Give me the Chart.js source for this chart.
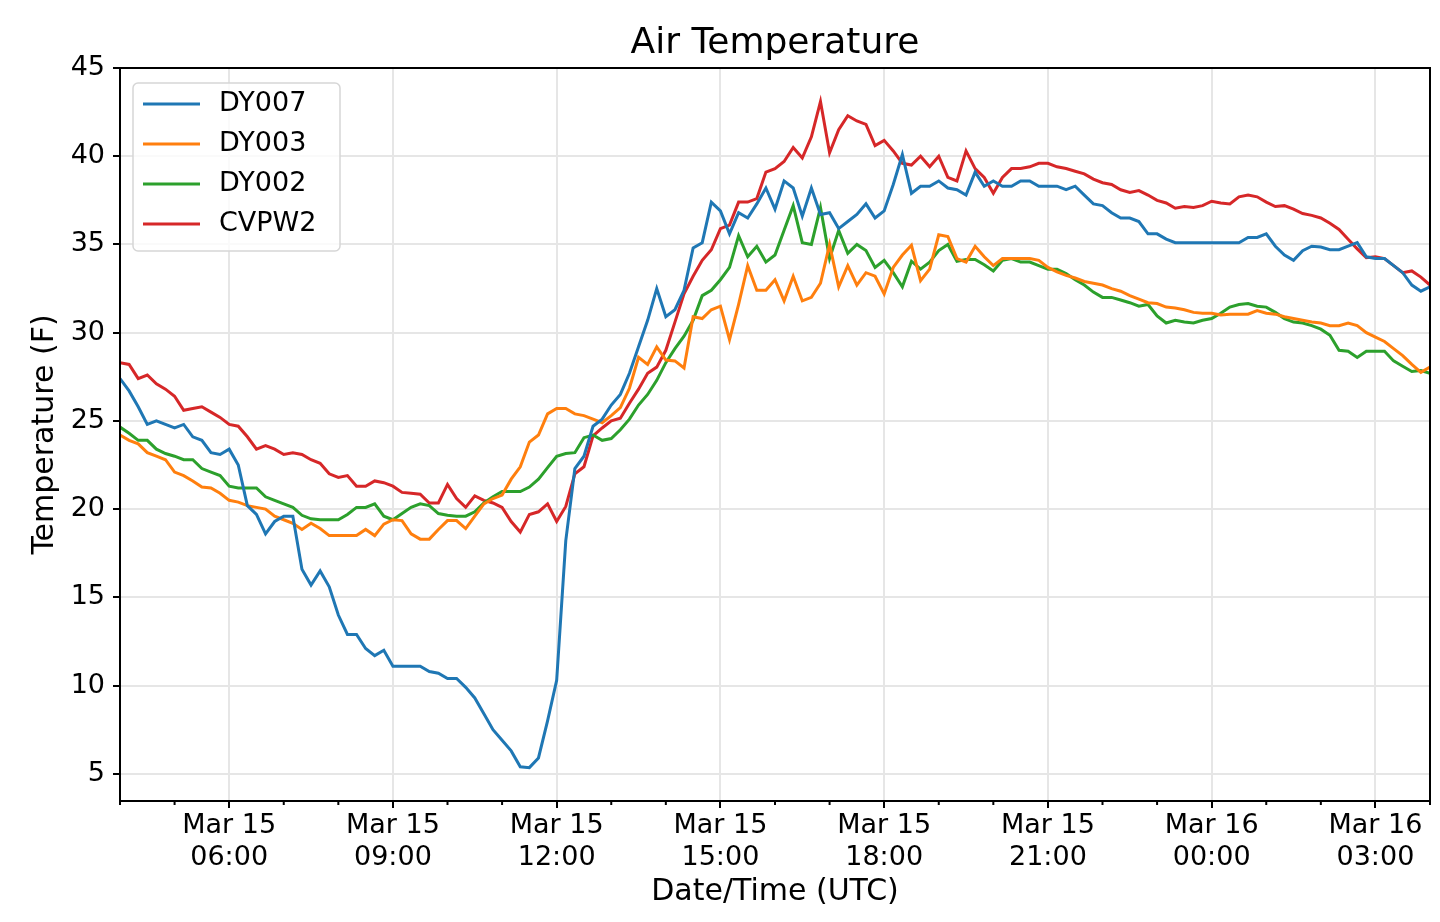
<!DOCTYPE html>
<html lang="en">
<head>
  <meta charset="UTF-8">
  <title>Air Temperature</title>
  <script src="https://cdn.jsdelivr.net/npm/chart.js"></script>
  <style>
    body { margin: 0; background: #fff; }
    .chart-div { width: 1440px; height: 922px; }
  </style>
</head>
<body>
<div class="chart-div">
  <canvas id="myChart"></canvas>
</div>
<script>
  // time axis: hours since Mar 15 00:00 UTC, one reading every 10 minutes from 04:00 to 04:00 next day
  const startHour = 4;
  const endHour = 28;
  const times = [];
  for (let i = 0; i <= (endHour - startHour) * 6; i++) times.push(startHour + i / 6);

  const chartTitle = 'Air Temperature';
  const seriesNames = ['DY007', 'DY003', 'DY002', 'CVPW2'];
  const seriesColors = ['#1f77b4', '#ff7f0e', '#2ca02c', '#d62728'];

  // each row = one hour (6 readings)
  const dy007 = [
    27.4, 26.7, 25.8, 24.8, 25.0, 24.8,    // 04:00
    24.6, 24.8, 24.1, 23.9, 23.2, 23.1,    // 05:00
    23.4, 22.5, 20.2, 19.7, 18.6, 19.3,    // 06:00
    19.6, 19.6, 16.6, 15.7, 16.5, 15.6,    // 07:00
    14.0, 12.9, 12.9, 12.1, 11.7, 12.0,    // 08:00
    11.1, 11.1, 11.1, 11.1, 10.8, 10.7,    // 09:00
    10.4, 10.4, 9.9, 9.3, 8.4, 7.5,        // 10:00
    6.9, 6.3, 5.4, 5.35, 5.9, 8.0,         // 11:00
    10.3, 18.2, 22.3, 23.0, 24.7, 25.1,    // 12:00
    25.9, 26.5, 27.7, 29.2, 30.7, 32.5,    // 13:00
    30.9, 31.3, 32.4, 34.8, 35.1, 37.4,    // 14:00
    36.9, 35.6, 36.8, 36.5, 37.3, 38.2,    // 15:00
    37.0, 38.6, 38.2, 36.6, 38.2, 36.7,    // 16:00
    36.8, 35.9, 36.3, 36.7, 37.3, 36.5,    // 17:00
    36.9, 38.4, 40.1, 37.9, 38.3, 38.3,    // 18:00
    38.6, 38.2, 38.1, 37.8, 39.1, 38.3,    // 19:00
    38.6, 38.3, 38.3, 38.6, 38.6, 38.3,    // 20:00
    38.3, 38.3, 38.1, 38.3, 37.8, 37.3,    // 21:00
    37.2, 36.8, 36.5, 36.5, 36.3, 35.6,    // 22:00
    35.6, 35.3, 35.1, 35.1, 35.1, 35.1,    // 23:00
    35.1, 35.1, 35.1, 35.1, 35.4, 35.4,    // 00:00
    35.6, 34.9, 34.4, 34.1, 34.65, 34.9,   // 01:00
    34.85, 34.7, 34.7, 34.9, 35.1, 34.3,   // 02:00
    34.2, 34.2, 33.8, 33.4, 32.7, 32.35,   // 03:00
    32.6                                   // 04:00
  ];

  const dy003 = [
    24.2, 23.9, 23.7, 23.2, 23.0, 22.8,
    22.1, 21.9, 21.6, 21.25, 21.2, 20.9,
    20.5, 20.4, 20.2, 20.1, 20.0, 19.6,
    19.4, 19.2, 18.85, 19.2, 18.9, 18.5,
    18.5, 18.5, 18.5, 18.85, 18.5, 19.15,
    19.4, 19.35, 18.6, 18.3, 18.3, 18.85,
    19.35, 19.35, 18.9, 19.6, 20.3, 20.6,
    20.8, 21.7, 22.4, 23.8, 24.2, 25.4,
    25.7, 25.7, 25.4, 25.3, 25.1, 24.9,
    25.3, 25.75, 26.85, 28.6, 28.2, 29.2,
    28.45, 28.4, 28.0, 30.9, 30.8, 31.3,
    31.5, 29.6, 31.6, 33.8, 32.4, 32.4,
    33.0, 31.8, 33.2, 31.8, 32.0, 32.8,
    35.0, 32.6, 33.8, 32.7, 33.4, 33.2,
    32.2, 33.7, 34.4, 34.95, 32.95, 33.6,
    35.55, 35.45, 34.2, 34.0, 34.9, 34.3,
    33.8, 34.2, 34.2, 34.2, 34.2, 34.1,
    33.7, 33.45, 33.25, 33.1, 32.9, 32.8,
    32.7, 32.5, 32.35, 32.1, 31.9, 31.7,
    31.65, 31.45, 31.4, 31.3, 31.15, 31.1,
    31.1, 31.0, 31.05, 31.05, 31.05, 31.25,
    31.1, 31.05, 30.9, 30.8, 30.7, 30.6,
    30.55, 30.4, 30.4, 30.55, 30.4, 30.0,
    29.75, 29.5, 29.1, 28.7, 28.2, 27.75,
    28.05
  ];

  const dy002 = [
    24.65, 24.3, 23.9, 23.9, 23.4, 23.15,
    23.0, 22.8, 22.8, 22.3, 22.1, 21.9,
    21.3, 21.2, 21.2, 21.2, 20.7, 20.5,
    20.3, 20.1, 19.65, 19.45, 19.4, 19.4,
    19.4, 19.7, 20.1, 20.1, 20.3, 19.6,
    19.4, 19.75, 20.1, 20.3, 20.2, 19.75,
    19.65, 19.6, 19.6, 19.85, 20.35, 20.7,
    21.0, 21.0, 21.0, 21.25, 21.7, 22.35,
    23.0, 23.15, 23.2, 24.05, 24.2, 23.9,
    24.0, 24.5, 25.1, 25.9, 26.5, 27.3,
    28.3, 29.1, 29.8, 30.7, 32.1, 32.4,
    33.0, 33.7, 35.5, 34.3, 34.9, 34.0,
    34.4, 35.8, 37.2, 35.1, 35.0, 37.1,
    34.2, 35.8, 34.5, 35.0, 34.65, 33.7,
    34.1, 33.4, 32.6, 34.05, 33.6, 34.0,
    34.65, 35.0, 34.05, 34.15, 34.15, 33.85,
    33.5, 34.1, 34.2, 34.0, 34.0, 33.8,
    33.6, 33.6, 33.35, 33.0, 32.7, 32.3,
    32.0, 32.0, 31.85, 31.7, 31.5, 31.6,
    30.95, 30.55, 30.7, 30.6, 30.55, 30.7,
    30.8, 31.1, 31.45, 31.6, 31.65, 31.5,
    31.45, 31.15, 30.8, 30.6, 30.55, 30.4,
    30.2, 29.85, 29.0, 28.95, 28.6, 28.95,
    28.95, 28.95, 28.4, 28.1, 27.8, 27.85,
    27.7
  ];

  const cvpw2 = [
    28.3, 28.2, 27.4, 27.6, 27.1, 26.8,
    26.4, 25.6, 25.7, 25.8, 25.5, 25.2,
    24.8, 24.7, 24.1, 23.4, 23.6, 23.4,
    23.1, 23.2, 23.1, 22.8, 22.6, 22.0,
    21.8, 21.9, 21.3, 21.3, 21.6, 21.5,
    21.3, 20.95, 20.9, 20.85, 20.35, 20.35,
    21.4, 20.6, 20.1, 20.75, 20.5, 20.35,
    20.1, 19.3, 18.7, 19.7, 19.85, 20.3,
    19.3, 20.15, 22.0, 22.4, 24.15, 24.6,
    25.0, 25.15, 26.0, 26.8, 27.7, 28.05,
    29.0, 30.6, 32.2, 33.2, 34.1, 34.7,
    35.9, 36.1, 37.4, 37.4, 37.6, 39.1,
    39.3, 39.7, 40.5, 39.9, 41.1, 43.1,
    40.2, 41.5, 42.3, 42.0, 41.8, 40.6,
    40.9, 40.3, 39.6, 39.5, 40.0, 39.4,
    40.0, 38.8, 38.6, 40.3, 39.3, 38.8,
    37.9, 38.8, 39.3, 39.3, 39.4, 39.6,
    39.6, 39.4, 39.3, 39.15, 39.0, 38.7,
    38.5, 38.4, 38.1, 37.95, 38.05, 37.8,
    37.5, 37.35, 37.05, 37.15, 37.1, 37.2,
    37.45, 37.35, 37.3, 37.7, 37.8, 37.7,
    37.4, 37.15, 37.2, 37.0, 36.75, 36.65,
    36.5, 36.2, 35.85, 35.3, 34.75, 34.25,
    34.3, 34.2, 33.8, 33.4, 33.5, 33.15,
    32.7
  ];

  const xMajorHours = [6, 9, 12, 15, 18, 21, 24, 27];
  const xTickLabels = [
    ['Mar 15', '06:00'], ['Mar 15', '09:00'], ['Mar 15', '12:00'], ['Mar 15', '15:00'],
    ['Mar 15', '18:00'], ['Mar 15', '21:00'], ['Mar 16', '00:00'], ['Mar 16', '03:00']
  ];
  const yTicks = [5, 10, 15, 20, 25, 30, 35, 40, 45];
  const yMin = 3.46;
  const yMax = 45;

  const allSeries = [dy007, dy003, dy002, cvpw2];

  Chart.defaults.font.family = '"DejaVu Sans", sans-serif';
  Chart.defaults.color = '#000';

  // title centred over the plot area (like matplotlib), box around the plot,
  // and short minor ticks on the time axis
  const frame = {
    id: 'frame',
    afterDraw(chart) {
      const {ctx, chartArea: a} = chart;
      const xs = chart.scales.x;
      ctx.save();
      ctx.fillStyle = '#000';
      ctx.font = '36px "DejaVu Sans"';
      ctx.textAlign = 'center';
      ctx.textBaseline = 'alphabetic';
      ctx.fillText(chartTitle, (a.left + a.right) / 2, a.top - 15);

      ctx.strokeStyle = '#000';
      ctx.lineWidth = 2;
      ctx.beginPath();
      xs.ticks.forEach(t => {
        if (xMajorHours.includes(t.value)) return;
        const px = xs.getPixelForValue(t.value);
        ctx.moveTo(px, a.bottom);
        ctx.lineTo(px, a.bottom + 4);
      });
      ctx.stroke();
      ctx.strokeRect(a.left, a.top, a.right - a.left, a.bottom - a.top);
      ctx.restore();
    }
  };

  // matplotlib style legend in the upper left corner
  const legendBox = {
    id: 'legendBox',
    afterDraw(chart) {
      const {ctx, chartArea: a} = chart;
      const x = a.left + 13, y = a.top + 15, w = 207, h = 168;
      ctx.save();
      ctx.fillStyle = 'rgba(255,255,255,0.8)';
      ctx.strokeStyle = '#d6d6d6';
      ctx.lineWidth = 1.5;
      ctx.beginPath();
      ctx.roundRect(x, y, w, h, 5);
      ctx.fill();
      ctx.stroke();
      ctx.font = '27px "DejaVu Sans"';
      ctx.textBaseline = 'middle';
      chart.data.datasets.forEach((ds, i) => {
        const cy = y + 21 + i * 40;
        ctx.strokeStyle = ds.borderColor;
        ctx.lineWidth = 3;
        ctx.beginPath();
        ctx.moveTo(x + 10, cy);
        ctx.lineTo(x + 67, cy);
        ctx.stroke();
        ctx.fillStyle = '#000';
        ctx.fillText(ds.label, x + 86, cy);
      });
      ctx.restore();
    }
  };

  const ctx = document.getElementById('myChart').getContext('2d');
  const myChart = new Chart(ctx, {
    type: 'line',
    data: {
      datasets: allSeries.map((vals, i) => ({
        label: seriesNames[i],
        data: vals.map((v, j) => ({x: times[j], y: v})),
        borderColor: seriesColors[i],
        backgroundColor: seriesColors[i],
        borderWidth: 3,
        pointRadius: 0,
        tension: 0,
        fill: false
      }))
    },
    options: {
      responsive: true,
      maintainAspectRatio: false,
      animation: false,
      layout: { padding: { left: 0, right: 10, top: 68, bottom: 0 } },
      plugins: {
        legend: { display: false },
        tooltip: { enabled: false },
        title: { display: false }
      },
      scales: {
        x: {
          type: 'linear',
          min: startHour,
          max: endHour,
          afterBuildTicks(scale) {
            const ticks = [];
            for (let h = startHour; h <= endHour; h++) ticks.push({value: h});
            scale.ticks = ticks;
          },
          afterFit(scale) { scale.height = 121; },
          ticks: {
            autoSkip: false,
            maxRotation: 0,
            padding: 2,
            color: '#000',
            font: { size: 27, lineHeight: 1.18 },
            callback(value) {
              const k = xMajorHours.indexOf(value);
              return k >= 0 ? xTickLabels[k] : '';
            }
          },
          grid: {
            color: c => (c.tick && xMajorHours.includes(c.tick.value)) ? '#e6e6e6' : 'rgba(0,0,0,0)',
            lineWidth: 2,
            tickColor: c => (c.tick && xMajorHours.includes(c.tick.value)) ? '#000' : 'rgba(0,0,0,0)',
            tickLength: 7,
            tickWidth: 2
          },
          border: { display: false },
          title: {
            display: true,
            text: 'Date/Time (UTC)',
            color: '#000',
            font: { size: 30 },
            padding: { top: 0, bottom: 12 }
          }
        },
        y: {
          min: yMin,
          max: yMax,
          afterBuildTicks(scale) {
            scale.ticks = yTicks.map(v => ({value: v}));
          },
          afterFit(scale) { scale.width = 120; },
          ticks: {
            padding: 8,
            color: '#000',
            font: { size: 27 }
          },
          grid: {
            color: '#e6e6e6',
            lineWidth: 2,
            tickColor: '#000',
            tickLength: 7,
            tickWidth: 2
          },
          border: { display: false },
          title: {
            display: true,
            text: 'Temperature (F)',
            color: '#000',
            font: { size: 30 },
            padding: { top: 27, bottom: 0 }
          }
        }
      }
    },
    plugins: [frame, legendBox]
  });
</script>
</body>
</html>
